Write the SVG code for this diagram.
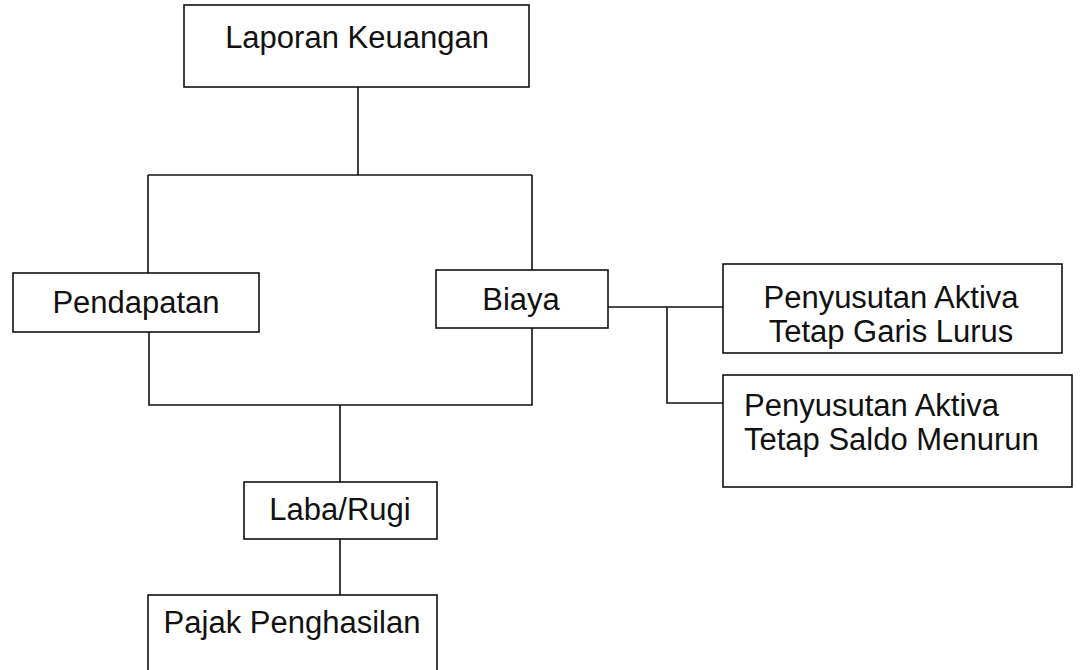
<svg xmlns="http://www.w3.org/2000/svg" width="1089" height="670" viewBox="0 0 1089 670">
<style>
.box{fill:#fff;stroke:#111;stroke-width:1.6}
.ln{fill:none;stroke:#111;stroke-width:1.6}
text{font-family:"Liberation Sans",Arial,sans-serif;font-size:31px;fill:#111}
.c{text-anchor:middle}
</style>
<rect width="1089" height="670" fill="#fff"/>
<g id="connectors">
<path class="ln" d="M358 87V175M148 175H532M148 175V273M532 175V270"/>
<path class="ln" d="M149 332V405H532V328M340 405V482M340 539V595"/>
<path class="ln" d="M608 307H723M667 307V403H723"/>
</g>
<g id="laporan"><rect class="box" x="184" y="5" width="345" height="82"/><text class="c" x="357" y="48">Laporan Keuangan</text></g>
<g id="pendapatan"><rect class="box" x="13" y="273" width="246" height="59"/><text class="c" x="136" y="313">Pendapatan</text></g>
<g id="biaya"><rect class="box" x="436" y="270" width="172" height="58"/><text class="c" x="521" y="310">Biaya</text></g>
<g id="garis-lurus"><rect class="box" x="723" y="264" width="339" height="89"/><text class="c" x="891" y="308">Penyusutan Aktiva</text><text class="c" x="891" y="342">Tetap Garis Lurus</text></g>
<g id="saldo-menurun"><rect class="box" x="723" y="375" width="349" height="112"/><text x="744" y="416">Penyusutan Aktiva</text><text x="744" y="450">Tetap Saldo Menurun</text></g>
<g id="labarugi"><rect class="box" x="244" y="482" width="193" height="57"/><text class="c" x="340" y="520">Laba/Rugi</text></g>
<g id="pajak"><rect class="box" x="148" y="595" width="289" height="80"/><text class="c" x="292" y="633">Pajak Penghasilan</text></g>
</svg>
